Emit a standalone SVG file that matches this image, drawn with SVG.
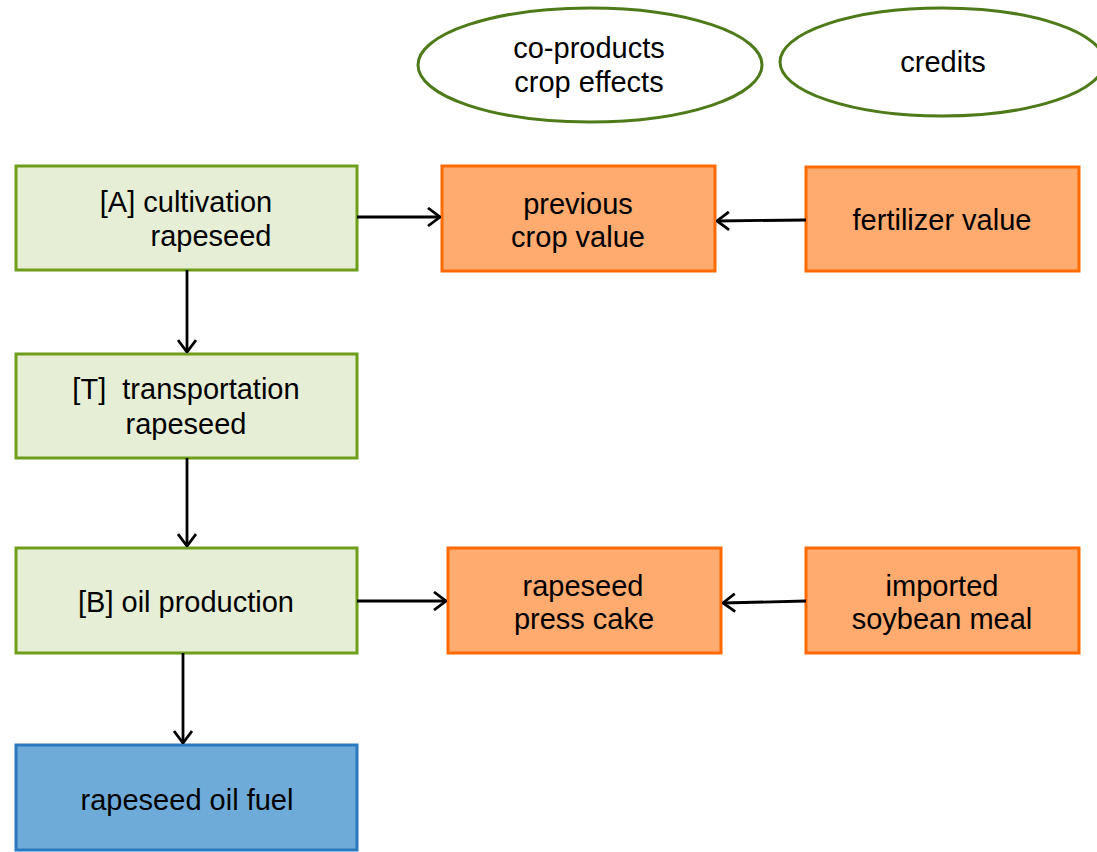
<svg xmlns="http://www.w3.org/2000/svg" width="1097" height="852" viewBox="0 0 1097 852">
<defs>
<style>
text{font-family:"Liberation Sans",Arial,sans-serif;font-size:29px;fill:#000;text-anchor:middle}
.g{fill:#e6eed6;stroke:#6f9e1a;stroke-width:3}
.o{fill:#ffaa6e;stroke:#ff6a00;stroke-width:3}
.b{fill:#6fabd8;stroke:#2a78bd;stroke-width:3}
.e{fill:#fff;stroke:#4e7a19;stroke-width:3}
.c{fill:none;stroke:#000;stroke-width:2.8}
</style>
<marker id="arr" viewBox="0 0 14 20" refX="13" refY="10" markerWidth="14" markerHeight="20" markerUnits="userSpaceOnUse" orient="auto">
<path d="M1,1 L13,10 L1,19" fill="none" stroke="#000" stroke-width="2.8"/>
</marker>
</defs>
<g id="ellipse-coproducts"><ellipse class="e" cx="590" cy="65" rx="172" ry="57"/><text x="589" y="58">co-products</text><text x="589" y="92">crop effects</text></g>
<g id="ellipse-credits"><ellipse class="e" cx="942" cy="62" rx="162" ry="54"/><text x="943" y="72">credits</text></g>
<g id="node-A"><rect class="g" x="16" y="166" width="341" height="104"/><text x="186" y="212">[A] cultivation</text><text x="211" y="246">rapeseed</text></g>
<g id="node-T"><rect class="g" x="16" y="354" width="341" height="104"/><text x="186" y="399" xml:space="preserve">[T]  transportation</text><text x="186" y="434">rapeseed</text></g>
<g id="node-B"><rect class="g" x="16" y="548" width="341" height="105"/><text x="186" y="612">[B] oil production</text></g>
<g id="node-fuel"><rect class="b" x="16" y="745" width="341" height="105"/><text x="187" y="810">rapeseed oil fuel</text></g>
<g id="node-prev"><rect class="o" x="442" y="166" width="273" height="105"/><text x="578" y="214">previous</text><text x="578" y="247">crop value</text></g>
<g id="node-fert"><rect class="o" x="806" y="167" width="273" height="104"/><text x="942" y="230">fertilizer value</text></g>
<g id="node-press"><rect class="o" x="448" y="548" width="273" height="105"/><text x="583" y="596">rapeseed</text><text x="584" y="629">press cake</text></g>
<g id="node-soy"><rect class="o" x="806" y="548" width="273" height="105"/><text x="942" y="596">imported</text><text x="942" y="629">soybean meal</text></g>
<g id="connectors">
<line class="c" x1="357" y1="217" x2="440" y2="217" marker-end="url(#arr)"/>
<line class="c" x1="806" y1="220" x2="717" y2="221" marker-end="url(#arr)"/>
<line class="c" x1="187" y1="270" x2="187" y2="352" marker-end="url(#arr)"/>
<line class="c" x1="187" y1="458" x2="187" y2="546" marker-end="url(#arr)"/>
<line class="c" x1="357" y1="601" x2="446" y2="601" marker-end="url(#arr)"/>
<line class="c" x1="806" y1="601" x2="723" y2="603" marker-end="url(#arr)"/>
<line class="c" x1="183" y1="653" x2="183" y2="743" marker-end="url(#arr)"/>
</g>
</svg>
